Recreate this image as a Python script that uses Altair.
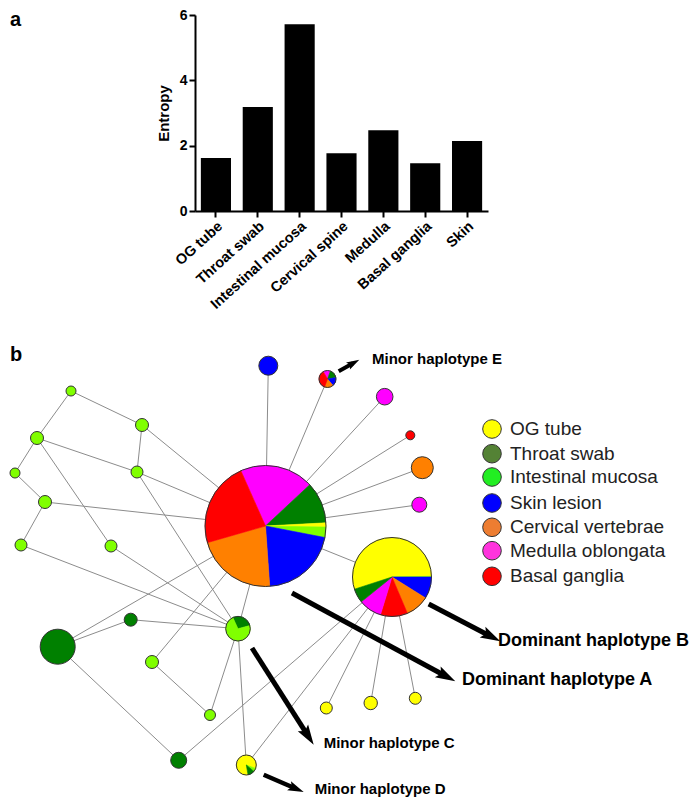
import altair as alt
import pandas as pd
import numpy as np

FONT = "Liberation Sans"

# ---------------- Panel a: entropy bars ----------------
tissues = ["OG tube", "Throat swab", "Intestinal mucosa", "Cervical spine",
           "Medulla", "Basal ganglia", "Skin"]
entropy = [1.62, 3.18, 5.72, 1.77, 2.47, 1.46, 2.14]

# ---------------- Panel b: haplotype network ----------------
cat_names = ["OG tube", "Throat swab", "Intestinal mucosa", "Skin lesion",
             "Cervical vertebrae", "Medulla oblongata", "Basal ganglia"]
net_colors = ["#FFFF00", "#008000", "#80FF00", "#0000FF", "#FF8000", "#FF00FF", "#FF0000"]
legend_colors = ["#FFFF00", "#548235", "#22EE22", "#0000FF", "#ED7D31", "#FF33DD", "#FF0000"]
legend_y = [431, 455.7, 479, 505, 529.3, 552.7, 578.3]

# single-colour nodes (page-pixel layout of the network)
node_id = ["n1", "n2", "n3", "n4", "n5", "n6", "n7", "n8", "n9", "n10",
           "g1", "g2", "g3", "sk", "m1", "bg", "cv", "m2", "y1", "y2", "y3"]
node_x = [69, 140, 35, 13, 135, 43, 19, 109, 150, 208,
          55.7, 128.7, 176.7, 266.3, 382.7, 408.3, 420.3, 417.3, 324.3, 368.7, 413.3]
node_y = [393, 427, 440, 475, 474, 504, 547, 548, 664, 717,
          648.7, 621.7, 762.3, 367.7, 398.7, 437.3, 469.7, 506.7, 710, 705, 700.3]
node_r = [5, 6.5, 6.5, 5, 6, 6.5, 6, 6, 6.5, 5.5,
          17.5, 6.5, 8, 9.5, 8.3, 4.5, 11, 7.5, 6, 6.7, 6]
node_cat = ["Intestinal mucosa"] * 10 + ["Throat swab"] * 3 + \
           ["Skin lesion", "Medulla oblongata", "Basal ganglia", "Cervical vertebrae",
            "Medulla oblongata", "OG tube", "OG tube", "OG tube"]

# pie nodes
pie_id = ["A", "B", "C", "D", "E"]
pie_x = [263.5, 390.0, 236.0, 244.3, 325.5]
pie_y = [528.0, 579.0, 630.7, 767.0, 381.0]
pie_r = [60.5, 39.5, 12.3, 10.0, 8.5]
pie_start = [336, 252, 335, 170, 330]

slice_pie = ["A"] * 7 + ["B"] * 7 + ["C"] * 2 + ["D"] * 3 + ["E"] * 5
slice_cat = ["Medulla oblongata", "Throat swab", "OG tube", "Intestinal mucosa",
             "Skin lesion", "Cervical vertebrae", "Basal ganglia",
             "OG tube", "Intestinal mucosa", "Skin lesion", "Cervical vertebrae",
             "Basal ganglia", "Medulla oblongata", "Throat swab",
             "Throat swab", "Intestinal mucosa",
             "OG tube", "Intestinal mucosa", "Throat swab",
             "Medulla oblongata", "Throat swab", "Skin lesion", "Cervical vertebrae",
             "Basal ganglia"]
slice_deg = [71, 40, 4, 10, 75, 78, 82,
             197, 1, 32, 35, 40, 34, 21,
             100, 260,
             300, 20, 40,
             50, 60, 60, 60, 130]

edge_from = ["n1", "n1", "n2", "n2", "n3", "n3", "n3", "n4", "n6", "n6", "n5", "n5",
             "n7", "n8", "A", "A", "g1", "g2", "g1", "g3", "B", "A", "n9", "n10",
             "C", "B", "B", "B", "A", "A", "A", "A", "A", "A", "A"]
edge_to = ["n3", "n2", "n5", "A", "n5", "n8", "n4", "n6", "n7", "A", "A", "C",
           "C", "C", "C", "g1", "g2", "C", "g3", "B", "D", "n9", "n10", "C",
           "D", "y1", "y2", "y3", "B", "sk", "E", "m1", "bg", "cv", "m2"]

arrow_x0 = [336.7, 290.0, 426.7, 250.0, 261.7]
arrow_y0 = [373.3, 595.0, 606.0, 650.0, 776.7]
arrow_x1 = [357.3, 453.3, 498.3, 311.7, 301.7]
arrow_y1 = [361.7, 683.3, 643.3, 746.7, 794.0]
arrow_w = [4, 5, 5, 5, 4.5]
arrow_head = [13, 20, 20, 20, 16]

label_text = ["b", "Minor haplotype E", "Dominant haplotype A", "Dominant haplotype B",
              "Minor haplotype C", "Minor haplotype D"]
label_x = [8, 370, 460, 496, 321.7, 312.7]
label_y = [357, 361, 682, 643, 745, 791]
label_size = [20, 15, 18, 18, 15, 15]

# ---------------- build tables ----------------
net_map = dict(zip(cat_names, net_colors))

bars_df = pd.DataFrame({"tissue": tissues, "entropy": entropy})

bars = alt.Chart(bars_df).mark_bar(color="black").encode(
    x=alt.X("tissue:N", sort=tissues,
            scale=alt.Scale(paddingInner=0.28, paddingOuter=0.14),
            axis=alt.Axis(title=None, labelAngle=-42, labelFontSize=14.5,
                          labelFontWeight="bold", labelFont=FONT, labelColor="black",
                          domainColor="black", domainWidth=2, tickColor="black",
                          tickWidth=2, tickSize=6, labelPadding=2)),
    y=alt.Y("entropy:Q", scale=alt.Scale(domain=[0, 6], nice=False),
            axis=alt.Axis(values=[0, 2, 4, 6], title="Entropy", titleFont=FONT,
                          titleFontSize=15, titleFontWeight="bold", titleColor="black",
                          titlePadding=8, labelFont=FONT, labelFontSize=14,
                          labelFontWeight="bold", labelColor="black", grid=False,
                          domainColor="black", domainWidth=2, tickColor="black",
                          tickWidth=2, tickSize=6, labelPadding=2)),
)
a_label = alt.Chart(pd.DataFrame({"t": ["a"]})).mark_text(
    align="left", baseline="top", font=FONT, fontSize=20, fontWeight="bold", color="black"
).encode(x=alt.value(-185), y=alt.value(-5), text="t:N")

top = alt.layer(bars, a_label).properties(width=293, height=196)

pos = {}
for i, n in enumerate(node_id):
    pos[n] = (node_x[i], node_y[i])
for i, n in enumerate(pie_id):
    pos[n] = (pie_x[i], pie_y[i])

edges_df = pd.DataFrame({
    "x1": [pos[a][0] for a in edge_from], "y1": [pos[a][1] for a in edge_from],
    "x2": [pos[b][0] for b in edge_to], "y2": [pos[b][1] for b in edge_to],
})

nodes_df = pd.DataFrame({"x": node_x, "y": node_y,
                         "s": [4 * r * r for r in node_r],
                         "col": [net_map[c] for c in node_cat]})

rows = []
pie_info = {p: (pie_x[i], pie_y[i], pie_r[i]) for i, p in enumerate(pie_id)}
cum = {p: pie_start[i] for i, p in enumerate(pie_id)}
for p, c, d in zip(slice_pie, slice_cat, slice_deg):
    x, y, r = pie_info[p]
    t0 = cum[p]
    t1 = t0 + d
    cum[p] = t1
    rows.append({"x": x, "y": y, "r": r, "t0": np.radians(t0), "t1": np.radians(t1),
                 "col": net_map[c]})
slices_df = pd.DataFrame(rows)
pies_df = pd.DataFrame({"x": pie_x, "y": pie_y, "s": [4 * r * r for r in pie_r]})

# arrows
ax0 = np.array(arrow_x0); ay0 = np.array(arrow_y0)
ax1 = np.array(arrow_x1); ay1 = np.array(arrow_y1)
dx = ax1 - ax0; dy = ay1 - ay0
L = np.hypot(dx, dy)
ux = dx / L; uy = dy / L
unit = np.array(arrow_head) / 1.8
hx = ax1 - unit * ux
hy = ay1 - unit * uy
ang = np.degrees(np.arctan2(dx, -dy)) % 360
shafts_df = pd.DataFrame({"x1": ax0, "y1": ay0, "x2": hx, "y2": hy, "w": arrow_w})
heads_df = pd.DataFrame({"x": hx, "y": hy, "s": (2 * unit) ** 2, "ang": ang})

labels_df = pd.DataFrame({"x": label_x, "y": label_y, "t": label_text, "fs": label_size})
leg_df = pd.DataFrame({"x": [490] * 7, "y": legend_y, "col": legend_colors,
                       "tx": [508] * 7, "t": cat_names, "s": [4 * 9.3 * 9.3] * 7})

# plot area of panel b starts at the same page x as panel a's plot (193)
X0, X1 = 193, 690
P0, H = 323, 468
xs = alt.Scale(domain=[X0, X1], nice=False, zero=False)
ys = alt.Scale(domain=[P0, P0 + H], nice=False, zero=False, reverse=True)


def X(f):
    return alt.X(f, type="quantitative", scale=xs, axis=None)


def Y(f):
    return alt.Y(f, type="quantitative", scale=ys, axis=None)


edges = alt.Chart(edges_df).mark_rule(color="#8c8c8c", strokeWidth=1).encode(
    x=X("x1"), y=Y("y1"), x2="x2:Q", y2="y2:Q")

arcs = alt.Chart(slices_df).mark_arc(strokeWidth=0.6).encode(
    x=X("x"), y=Y("y"),
    theta=alt.Theta("t0:Q", scale=None), theta2="t1:Q",
    radius=alt.Radius("r:Q", scale=None),
    fill=alt.Fill("col:N", scale=None), stroke=alt.Stroke("col:N", scale=None))

pie_outline = alt.Chart(pies_df).mark_point(
    shape="circle", filled=False, stroke="#333333", strokeWidth=1, opacity=1
).encode(x=X("x"), y=Y("y"), size=alt.Size("s:Q", scale=None))

nodes = alt.Chart(nodes_df).mark_point(
    shape="circle", filled=True, stroke="#333333", strokeWidth=1, opacity=1
).encode(x=X("x"), y=Y("y"), size=alt.Size("s:Q", scale=None),
         fill=alt.Fill("col:N", scale=None))

shafts = alt.Chart(shafts_df).mark_rule(color="black", strokeCap="butt").encode(
    x=X("x1"), y=Y("y1"), x2="x2:Q", y2="y2:Q",
    strokeWidth=alt.StrokeWidth("w:Q", scale=None))

heads = alt.Chart(heads_df).mark_point(
    shape="M0,-1L0.55,0.8L0,0.45L-0.55,0.8Z", filled=True, color="black", opacity=1
).encode(x=X("x"), y=Y("y"), size=alt.Size("s:Q", scale=None),
         angle=alt.Angle("ang:Q", scale=None))

labels = alt.Chart(labels_df).mark_text(
    align="left", baseline="middle", font=FONT, fontWeight="bold", color="black"
).encode(x=X("x"), y=Y("y"), text="t:N", size=alt.Size("fs:Q", scale=None))

leg_dots = alt.Chart(leg_df).mark_point(
    shape="circle", filled=True, stroke="#333333", strokeWidth=1, opacity=1
).encode(x=X("x"), y=Y("y"), size=alt.Size("s:Q", scale=None),
         fill=alt.Fill("col:N", scale=None))

leg_text = alt.Chart(leg_df).mark_text(
    align="left", baseline="middle", font=FONT, fontSize=19, color="#222222"
).encode(x=X("tx"), y=Y("y"), text="t:N")

bottom = alt.layer(edges, arcs, pie_outline, nodes, shafts, heads, labels,
                   leg_dots, leg_text).properties(width=X1 - X0, height=H)

chart = alt.vconcat(top, bottom, spacing=10).properties(
    padding={"left": 0, "top": 0, "right": 0, "bottom": 0}
).configure_view(stroke=None)

chart.save("out.html", embed_options={"renderer": "svg", "actions": False})
